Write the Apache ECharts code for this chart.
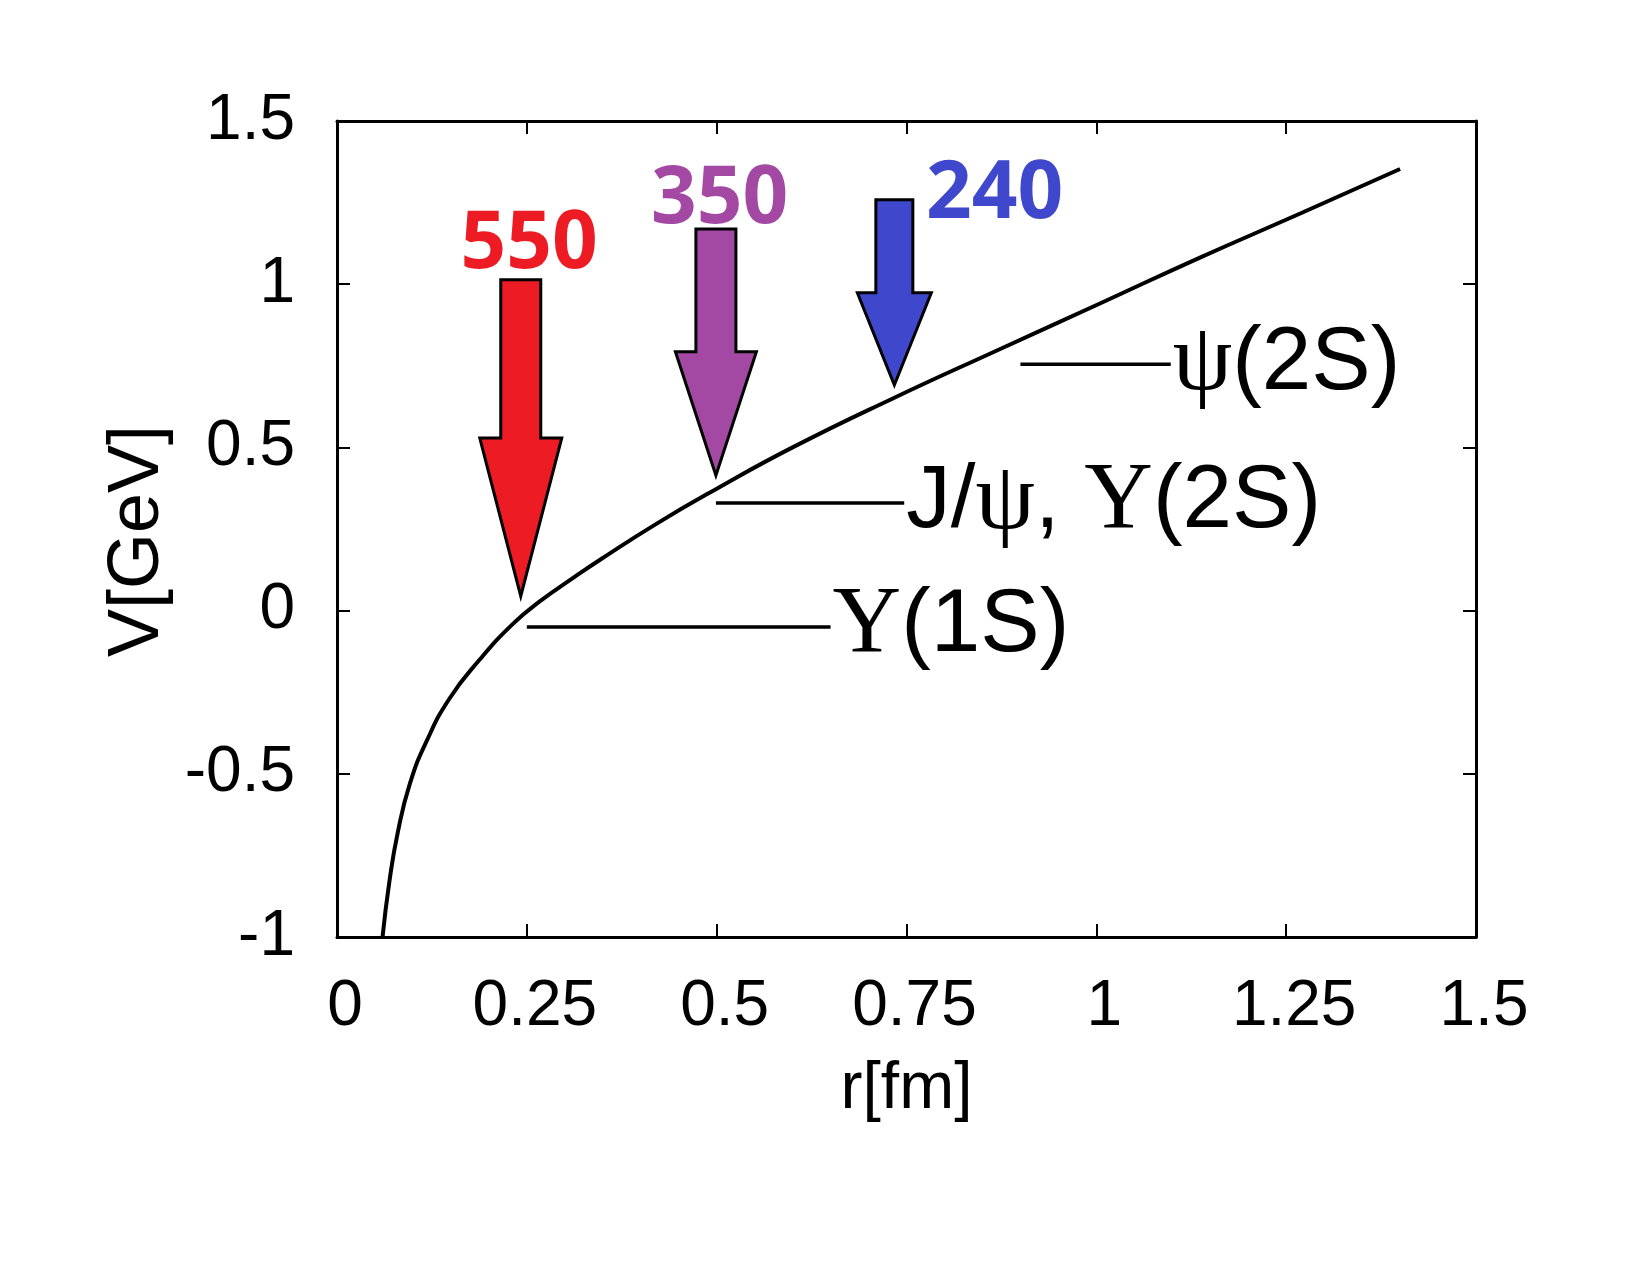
<!DOCTYPE html>
<html>
<head>
<meta charset="utf-8">
<script src="https://cdn.jsdelivr.net/npm/echarts@6/dist/echarts.min.js"></script>
<style>
  html, body { margin: 0; padding: 0; background: #fff; }
  #chart { width: 1650px; height: 1275px; }
</style>
</head>
<body>
<div id="chart"></div>
<script>
// potential curve: r [fm], V [GeV]
const rValues = [0.060, 0.069, 0.080, 0.096, 0.118, 0.148, 0.188, 0.232, 0.267, 0.311,
  0.346, 0.420, 0.499, 0.600, 0.732, 0.872, 1.004, 1.135, 1.270, 1.400];
const vValues = [-1.0, -0.83, -0.68, -0.53, -0.40, -0.27, -0.15, -0.04, 0.028, 0.10,
  0.155, 0.265, 0.372, 0.50, 0.650, 0.800, 0.940, 1.080, 1.218, 1.353];

const xTicks = { min: 0, max: 1.5, interval: 0.25 };
const yTicks = { min: -1, max: 1.5, interval: 0.5 };

// bound-state levels
const levelNames = ["Υ(1S)", "J/ψ, Υ(2S)", "ψ(2S)"];
const levelV = [-0.05, 0.33, 0.755];
const levelStart = [0.25, 0.499, 0.90];
const levelEnd = [0.65, 0.747, 1.098];

// temperature arrows (MeV)
const arrowLabels = ["550", "350", "240"];
const arrowX = [0.242, 0.499, 0.734];
const arrowTip = [0.044, 0.414, 0.691];
const arrowHead = [0.529, 0.793, 0.974];
const arrowTop = [1.014, 1.169, 1.259];
const arrowLabelX = [0.253, 0.504, 0.866];
const arrowLabelY = [1.143, 1.281, 1.298];

const arrowColors = ["#ED1C24", "#A349A4", "#3F48CC"];
const shaftW = [40, 40, 37];
const headW = [82, 81, 74];

const sans = '"Liberation Sans", Arial, Helvetica, sans-serif';
const serif = '"Liberation Serif", "DejaVu Serif", serif';

const curve = rValues.map((r, i) => [r, vValues[i]]);
const arrowRows = arrowX.map((x, i) => [x, arrowTip[i], arrowHead[i], arrowTop[i], arrowLabelX[i], arrowLabelY[i]]);

function richName(name) {
  // greek letters in serif, the rest in sans
  let out = "";
  let buf = "";
  for (const ch of name) {
    if (ch === "Υ" || ch === "ψ") {
      if (buf) out += `{s|${buf}}`;
      buf = "";
      out += `{g|${ch}}`;
    } else {
      buf += ch;
    }
  }
  if (buf) out += `{s|${buf}}`;
  return out;
}

const levelSeries = levelNames.map((name, i) => ({
  type: "line",
  silent: true,
  symbol: "none",
  z: 3,
  lineStyle: { color: "#000", width: 3.5 },
  endLabel: {
    show: true,
    distance: 2,
    formatter: richName(name),
    rich: {
      s: { fontFamily: sans, fontSize: 89, color: "#000" },
      g: { fontFamily: serif, fontSize: 95, color: "#000" },
    },
  },
  data: [[levelStart[i], levelV[i]], [levelEnd[i], levelV[i]]],
}));

function renderArrow(params, api) {
  const i = params.dataIndex;
  const x = api.value(0);
  const tip = api.coord([x, api.value(1)]);
  const head = api.coord([x, api.value(2)]);
  const top = api.coord([x, api.value(3)]);
  const lab = api.coord([api.value(4), api.value(5)]);
  const cx = tip[0];
  const sw = shaftW[i] / 2;
  const hw = headW[i] / 2;
  return {
    type: "group",
    children: [
      {
        type: "polygon",
        shape: {
          points: [
            [cx - sw, top[1]], [cx + sw, top[1]], [cx + sw, head[1]], [cx + hw, head[1]],
            [cx, tip[1]], [cx - hw, head[1]], [cx - sw, head[1]],
          ],
        },
        style: { fill: arrowColors[i], stroke: "#000", lineWidth: 3, lineJoin: "miter" },
      },
      {
        type: "text",
        x: lab[0],
        y: lab[1] + 8,
        style: {
          text: arrowLabels[i],
          fill: arrowColors[i],
          font: 'bold 80px "Open Sans", "Noto Sans", sans-serif',
          align: "center",
          verticalAlign: "middle",
        },
      },
    ],
  };
}

const chart = echarts.init(document.getElementById("chart"), null, { renderer: "canvas" });

const axisLine = { show: true, onZero: false, lineStyle: { color: "#000", width: 3 } };
const axisTick = { show: true, inside: true, length: 13, lineStyle: { color: "#000", width: 2 } };

chart.setOption({
  animation: false,
  backgroundColor: "#fff",
  grid: { left: 337, top: 121, width: 1139, height: 816 },
  xAxis: [
    {
      type: "value",
      position: "bottom",
      ...xTicks,
      name: "r[fm]",
      nameLocation: "middle",
      nameGap: 120,
      nameTextStyle: { fontFamily: sans, fontSize: 66, color: "#000" },
      axisLine,
      axisTick,
      splitLine: { show: false },
      axisLabel: { margin: 38, padding: [0, 0, 0, 16], fontFamily: sans, fontSize: 64, color: "#000" },
    },
    {
      type: "value",
      position: "top",
      ...xTicks,
      axisLine,
      axisTick,
      splitLine: { show: false },
      axisLabel: { show: false },
    },
  ],
  yAxis: [
    {
      type: "value",
      position: "left",
      ...yTicks,
      name: "V[GeV]",
      nameLocation: "middle",
      nameGap: 138,
      nameTextStyle: { fontFamily: sans, fontSize: 72, color: "#000", padding: [0, 24, 0, 0] },
      axisLine,
      axisTick,
      splitLine: { show: false },
      axisLabel: { margin: 42, fontFamily: sans, fontSize: 64, color: "#000" },
    },
    {
      type: "value",
      position: "right",
      ...yTicks,
      axisLine,
      axisTick,
      splitLine: { show: false },
      axisLabel: { show: false },
    },
  ],
  series: [
    {
      type: "line",
      silent: true,
      symbol: "none",
      smooth: 0.5,
      z: 3,
      lineStyle: { color: "#000", width: 4 },
      data: curve,
    },
    ...levelSeries,
    {
      type: "custom",
      silent: true,
      clip: false,
      z: 4,
      renderItem: renderArrow,
      data: arrowRows,
    },
  ],
});
</script>
</body>
</html>
